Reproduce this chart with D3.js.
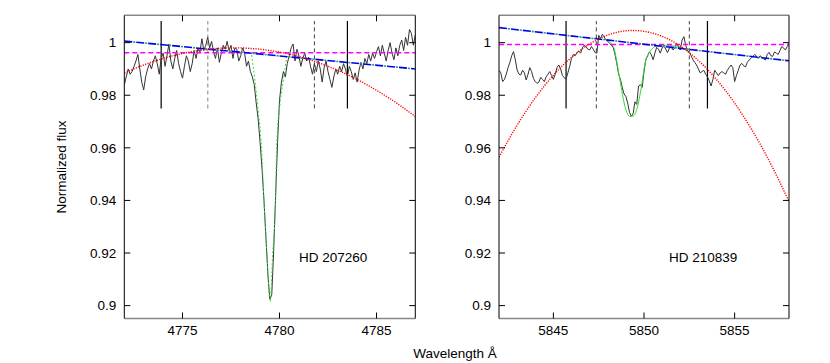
<!DOCTYPE html>
<html>
<head>
<meta charset="utf-8">
<script src="https://cdn.jsdelivr.net/npm/d3@7"></script>
<style>
  body { margin: 0; background: #fff; }
  svg { font-family: "Liberation Sans", Arial, sans-serif; }
</style>
</head>
<body>
<div id="chart"></div>
<script>
// Data
const waveStep = 0.1;

// HD 207260: observed spectrum, 4772.0 .. 4787.0 A every 0.1 A
const leftStart = 4772;
const leftFlux = [
  0.984, 0.987, 0.990, 0.988, 0.989, 0.991, 0.993, 0.9955, 0.990, 0.985,
  0.982, 0.987, 0.990, 0.992, 0.990, 0.993, 0.995, 0.992, 0.988, 0.994,
  0.996, 0.991, 0.995, 0.9995, 0.993, 0.990, 0.994, 0.997, 0.992, 0.989,
  0.9865, 0.991, 0.995, 0.993, 0.989, 0.992, 0.997, 0.994, 0.998, 0.9965,
  1.0015, 0.997, 0.999, 1.002, 0.998, 1.0005, 0.9965, 0.994, 0.998, 0.9925,
  0.996, 0.999, 0.9975, 1.0005, 0.997, 0.999, 0.994, 0.998, 0.9975, 0.993,
  0.995, 0.998, 0.996, 0.991, 0.993, 0.989, 0.987, 0.984, 0.977, 0.971,
  0.962, 0.952, 0.940, 0.926, 0.912, 0.9025, 0.904, 0.921, 0.942, 0.962,
  0.978, 0.985, 0.989, 0.987, 0.992, 0.995, 0.998, 0.9995, 0.993, 0.9975,
  0.995, 0.991, 0.994, 0.996, 0.993, 0.9945, 0.991, 0.988, 0.992, 0.989,
  0.993, 0.990, 0.985, 0.9905, 0.993, 0.989, 0.986, 0.983, 0.987, 0.990,
  0.988, 0.991, 0.989, 0.992, 0.990, 0.987, 0.991, 0.989, 0.986, 0.9885,
  0.985, 0.9895, 0.9925, 0.990, 0.994, 0.992, 0.9955, 0.993, 0.996, 0.994,
  0.9965, 0.9985, 0.995, 0.999, 0.996, 0.993, 0.997, 1.000, 0.996, 0.9935,
  0.998, 0.995, 0.999, 1.001, 0.997, 1.002, 0.999, 1.005, 1.0035, 0.999,
  1.003
];

// HD 210839: observed spectrum, 5842.0 .. 5858.0 A every 0.1 A
const rightStart = 5842;
const rightFlux = [
  0.9895, 0.9885, 0.9852, 0.9860, 0.9880, 0.9905, 0.9925, 0.9950, 0.9966, 0.9935,
  0.9896, 0.9880, 0.9877, 0.9895, 0.9885, 0.9858, 0.9880, 0.9905, 0.9890, 0.9864,
  0.9852, 0.9845, 0.9850, 0.9868, 0.9860, 0.9852, 0.9870, 0.9880, 0.9890, 0.9875,
  0.9860, 0.9880, 0.9905, 0.9915, 0.9900, 0.9875, 0.9866, 0.9862, 0.9885, 0.9910,
  0.9940, 0.9955, 0.9950, 0.9962, 0.9968, 0.9960, 0.9980, 0.9990, 0.9985, 0.9975,
  0.9972, 0.9985, 0.9975, 0.9962, 0.9960, 1.0028, 1.0015, 1.0032, 1.0022, 1.0010,
  1.0005, 0.9998, 0.9990, 0.9982, 0.9955, 0.9920, 0.9880, 0.9860, 0.9830, 0.9805,
  0.9795, 0.9770, 0.9735, 0.9720, 0.9730, 0.9775, 0.9765, 0.9835, 0.9840, 0.9830,
  0.9890, 0.9935, 0.9950, 0.9965, 0.9955, 0.9935, 0.9960, 0.9982, 0.9975, 0.9960,
  0.9980, 0.9992, 0.9975, 0.9962, 0.9980, 0.9985, 0.9972, 0.9980, 0.9997, 0.9985,
  0.9972, 1.0010, 1.0023, 0.9990, 0.9968, 0.9962, 0.9950, 0.9935, 0.9925, 0.9915,
  0.9900, 0.9885, 0.9890, 0.9895, 0.9880, 0.9870, 0.9855, 0.9835, 0.9860, 0.9895,
  0.9885, 0.9875, 0.9885, 0.9890, 0.9885, 0.9880, 0.9895, 0.9905, 0.9915, 0.9905,
  0.9852, 0.9875, 0.9895, 0.9915, 0.9921, 0.9912, 0.9908, 0.9925, 0.9934, 0.9940,
  0.9947, 0.9955, 0.9950, 0.9940, 0.9950, 0.9945, 0.9938, 0.9934, 0.9955, 0.9963,
  0.9950, 0.9948, 0.9965, 0.9960, 0.9955, 0.9970, 0.9985, 0.9980, 0.9972, 0.9985,
  0.9997
];

// line profile fits (green)
const leftFitWave = [4778.56, 4778.73, 4778.90, 4779.07, 4779.20, 4779.35, 4779.52, 4779.65, 4779.80, 4779.85, 4780.05, 4780.20, 4780.37];
const leftFitFlux = [0.9953, 0.9858, 0.9744, 0.9605, 0.9400, 0.9200, 0.9015, 0.9200, 0.9400, 0.9605, 0.9780, 0.9858, 0.9945];
const rightFitWave = [5847.85, 5848.31, 5848.58, 5848.77, 5848.95, 5849.23, 5849.41, 5849.69, 5849.87, 5850.06, 5850.33, 5850.70, 5851.25, 5851.80, 5852.35];
const rightFitFlux = [1.0013, 0.9985, 0.9896, 0.9820, 0.9757, 0.9719, 0.9721, 0.9770, 0.9839, 0.9922, 0.9966, 0.9987, 0.9990, 0.9985, 0.9975];

// polynomial continuum (red dotted), sampled
const leftPolyWave = [4772, 4772.5, 4773, 4773.5, 4774, 4774.5, 4775, 4775.5, 4776, 4776.5, 4777, 4777.5, 4778, 4778.5, 4779, 4779.5,
  4780, 4780.5, 4781, 4781.5, 4782, 4782.5, 4783, 4783.5, 4784, 4784.5, 4785, 4785.5, 4786, 4786.5, 4787];
const leftPolyFlux = [0.9884, 0.9900, 0.9915, 0.9928, 0.9940, 0.9950, 0.9959, 0.9966, 0.9972, 0.9976, 0.9979, 0.9980, 0.9980, 0.9978, 0.9975, 0.9970,
  0.9964, 0.9956, 0.9947, 0.9936, 0.9924, 0.9910, 0.9895, 0.9878, 0.9860, 0.9840, 0.9819, 0.9796, 0.9772, 0.9746, 0.9719];
const rightPolyWave = [5842, 5843, 5844, 5845, 5846, 5847, 5848, 5849, 5850, 5851, 5852, 5853, 5854, 5855, 5856, 5857, 5858];
const rightPolyFlux = [0.9565, 0.9686, 0.9790, 0.9876, 0.9944, 0.9995, 1.0029, 1.0045, 1.0043, 1.0024, 0.9987, 0.9932, 0.9860, 0.9770, 0.9663, 0.9538, 0.9396];

// linear continuum (blue dash-dot) and constant level (magenta)
const leftLinWave = [4772, 4787];
const leftLinFlux = [1.0006, 0.9900];
const rightLinWave = [5842, 5858];
const rightLinFlux = [1.0057, 0.9931];
const leftLevel = 0.9962;
const rightLevel = 0.9993;

// window markers
const leftSolid = [4773.9, 4783.5];
const leftDashed = [4776.3, 4781.8];
const rightSolid = [5845.7, 5853.5];
const rightDashed = [5847.37, 5852.5];
const markerSpan = [0.975, 1.0082];

// axes
const leftDomain = [4772, 4787];
const rightDomain = [5842, 5858];
const leftTicks = [4775, 4780, 4785];
const rightTicks = [5845, 5850, 5855];
const yTicks = [0.9, 0.92, 0.94, 0.96, 0.98, 1.0];
const yDomain = [0.8951, 1.0104];
const starNames = ["HD 207260", "HD 210839"];

// Layout
const W = 830, H = 363;
const plotTop = 15.3, plotBottom = 318.5;
const fs = 13.5;

const svg = d3.select("#chart").append("svg")
    .attr("width", W)
    .attr("height", H);

const y = d3.scaleLinear().domain(yDomain).range([plotBottom, plotTop]);

function series(start, flux) {
    return flux.map((f, i) => [start + i * waveStep, f]);
}
function pairs(ws, fl) {
    return ws.map((w, i) => [w, fl[i]]);
}

function drawPanel(cfg, idx) {
    const x = d3.scaleLinear().domain(cfg.domain).range([cfg.left, cfg.right]);
    const g = svg.append("g");

    g.append("clipPath").attr("id", "clip" + idx)
      .append("rect")
        .attr("x", cfg.left).attr("y", plotTop)
        .attr("width", cfg.right - cfg.left).attr("height", plotBottom - plotTop);

    const plot = g.append("g").attr("clip-path", `url(#clip${idx})`);
    const line = d3.line().x(d => x(d[0])).y(d => y(d[1]));

    // window markers
    cfg.solid.forEach(w => {
        plot.append("line")
            .attr("x1", x(w)).attr("x2", x(w))
            .attr("y1", y(markerSpan[0])).attr("y2", y(markerSpan[1]))
            .attr("stroke", "#000").attr("stroke-width", 1.2);
    });
    cfg.dashed.forEach((w, i) => {
        plot.append("line")
            .attr("x1", x(w)).attr("x2", x(w))
            .attr("y1", y(markerSpan[0])).attr("y2", y(markerSpan[1]))
            .attr("stroke", (idx === 0 && i === 0) ? "#aaa" : "#444")
            .attr("stroke-width", (idx === 0 && i === 0) ? 1.5 : 1)
            .attr("stroke-dasharray", "4,3");
    });

    // observed spectrum
    plot.append("path")
        .datum(series(cfg.start, cfg.flux))
        .attr("fill", "none")
        .attr("stroke", "#333")
        .attr("stroke-width", 1)
        .attr("d", line);

    // line profile fit
    plot.append("path")
        .datum(pairs(cfg.fitW, cfg.fitF))
        .attr("fill", "none")
        .attr("stroke", "#33dd33")
        .attr("stroke-width", 1)
        .attr("stroke-dasharray", idx === 0 ? "2,2" : null)
        .attr("d", d3.line().x(d => x(d[0])).y(d => y(d[1])).curve(d3.curveMonotoneX));

    // constant level
    plot.append("line")
        .attr("x1", cfg.left).attr("x2", cfg.right)
        .attr("y1", y(cfg.level)).attr("y2", y(cfg.level))
        .attr("stroke", "#ff00ff")
        .attr("stroke-width", 1.5)
        .attr("stroke-dasharray", "5,3");

    // linear continuum
    const lin = pairs(cfg.linW, cfg.linF);
    plot.append("path").datum(lin)
        .attr("fill", "none")
        .attr("stroke", "#1a9a80")
        .attr("stroke-width", 1.6)
        .attr("stroke-dasharray", "2,10")
        .attr("stroke-dashoffset", -9)
        .attr("d", line);
    plot.append("path").datum(lin)
        .attr("fill", "none")
        .attr("stroke", "#0000ee")
        .attr("stroke-width", 1.6)
        .attr("stroke-dasharray", "8,4")
        .attr("d", line);

    // polynomial continuum
    plot.append("path")
        .datum(pairs(cfg.polyW, cfg.polyF))
        .attr("fill", "none")
        .attr("stroke", "#ff0000")
        .attr("stroke-width", 1.4)
        .attr("stroke-dasharray", "1.2,1.3")
        .attr("d", d3.line().x(d => x(d[0])).y(d => y(d[1])).curve(d3.curveNatural));

    // border
    g.append("line").attr("x1", cfg.left).attr("x2", cfg.right).attr("y1", plotTop).attr("y2", plotTop)
        .attr("stroke", "#888").attr("stroke-width", 1.5);
    g.append("line").attr("x1", cfg.left).attr("x2", cfg.right).attr("y1", plotBottom).attr("y2", plotBottom)
        .attr("stroke", "#888").attr("stroke-width", 1.5);
    g.append("line").attr("x1", cfg.left).attr("x2", cfg.left).attr("y1", plotTop).attr("y2", plotBottom)
        .attr("stroke", "#000").attr("stroke-width", 1);
    g.append("line").attr("x1", cfg.right).attr("x2", cfg.right).attr("y1", plotTop).attr("y2", plotBottom)
        .attr("stroke", "#000").attr("stroke-width", 1);

    // ticks (mirrored, inward)
    const tl = 6;
    cfg.ticks.forEach(t => {
        g.append("line").attr("x1", x(t)).attr("x2", x(t)).attr("y1", plotBottom).attr("y2", plotBottom - tl)
            .attr("stroke", "#000");
        g.append("line").attr("x1", x(t)).attr("x2", x(t)).attr("y1", plotTop).attr("y2", plotTop + tl)
            .attr("stroke", "#000");
        g.append("text").attr("x", x(t)).attr("y", plotBottom + 16)
            .attr("text-anchor", "middle").attr("font-size", fs).attr("fill", "#000")
            .text(t);
    });
    yTicks.forEach(t => {
        g.append("line").attr("x1", cfg.left).attr("x2", cfg.left + tl).attr("y1", y(t)).attr("y2", y(t))
            .attr("stroke", "#000");
        g.append("line").attr("x1", cfg.right).attr("x2", cfg.right - tl).attr("y1", y(t)).attr("y2", y(t))
            .attr("stroke", "#000");
        g.append("text").attr("x", cfg.left - 8).attr("y", y(t)).attr("dy", "0.35em")
            .attr("text-anchor", "end").attr("font-size", fs).attr("fill", "#000")
            .text(String(+t.toFixed(2)));
    });

    // star label
    g.append("text")
        .attr("x", cfg.labelX).attr("y", y(0.9165))
        .attr("font-size", fs).attr("fill", "#000")
        .text(cfg.name);
}

const panels = [
    { left: 124.3, right: 415.3, domain: leftDomain, ticks: leftTicks, start: leftStart, flux: leftFlux,
      fitW: leftFitWave, fitF: leftFitFlux, polyW: leftPolyWave, polyF: leftPolyFlux,
      linW: leftLinWave, linF: leftLinFlux, level: leftLevel, solid: leftSolid, dashed: leftDashed,
      name: starNames[0], labelX: 299 },
    { left: 499, right: 789, domain: rightDomain, ticks: rightTicks, start: rightStart, flux: rightFlux,
      fitW: rightFitWave, fitF: rightFitFlux, polyW: rightPolyWave, polyF: rightPolyFlux,
      linW: rightLinWave, linF: rightLinFlux, level: rightLevel, solid: rightSolid, dashed: rightDashed,
      name: starNames[1], labelX: 669 }
];
panels.forEach(drawPanel);

// axis titles
svg.append("text")
    .attr("transform", `translate(66,${(plotTop + plotBottom) / 2}) rotate(-90)`)
    .attr("text-anchor", "middle").attr("font-size", fs).attr("fill", "#000")
    .text("Normalized flux");
svg.append("text")
    .attr("x", 455).attr("y", 358)
    .attr("text-anchor", "middle").attr("font-size", fs).attr("fill", "#000")
    .text("Wavelength Å");
</script>
</body>
</html>
